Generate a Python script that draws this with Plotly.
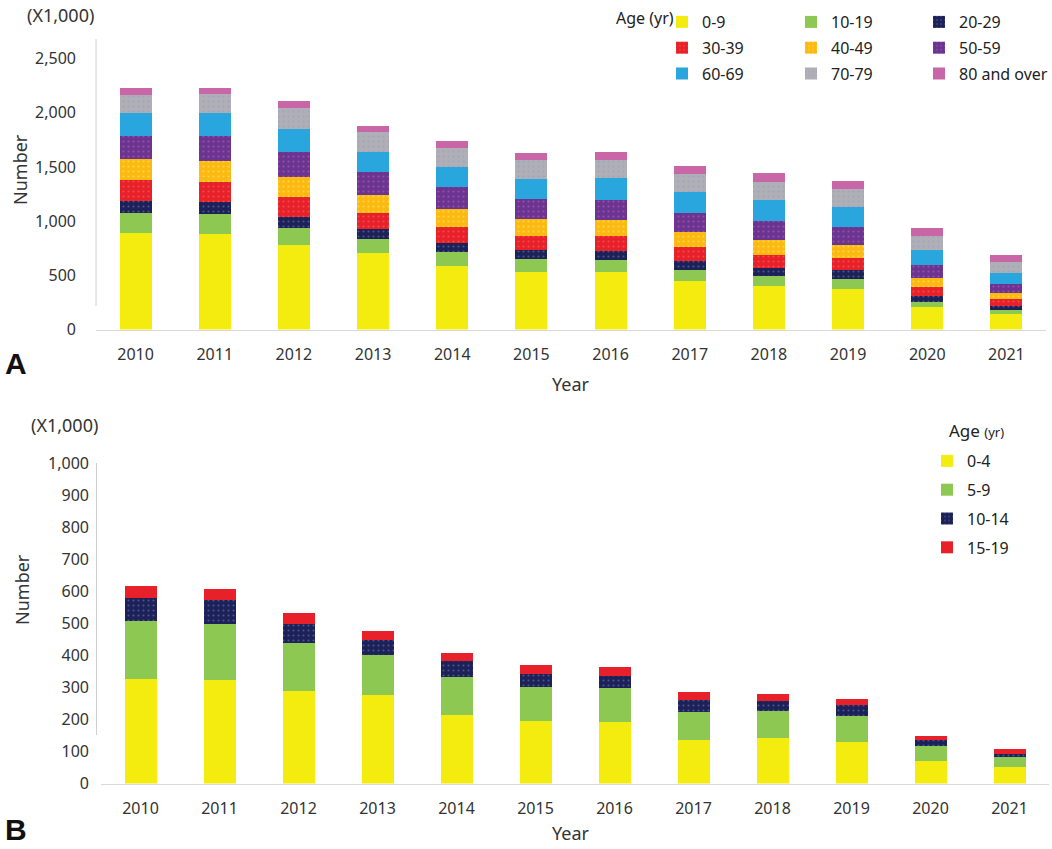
import plotly.graph_objects as go

W, H = 1052, 849

years = [str(y) for y in range(2010, 2022)]

# Panel A (x1,000)
age_a = ["0-9", "10-19", "20-29", "30-39", "40-49", "50-59", "60-69", "70-79", "80 and over"]
a_0_9   = [892, 882, 775, 704, 588, 532, 532, 447, 401, 373, 207, 140]
a_10_19 = [184, 184, 160, 129, 129, 117, 105, 104, 89, 92, 49, 40]
a_20_29 = [111, 108, 101, 93, 83, 83, 86, 83, 79, 83, 55, 39]
a_30_39 = [190, 184, 184, 150, 150, 129, 138, 126, 117, 108, 78, 59]
a_40_49 = [196, 194, 187, 169, 163, 154, 150, 138, 138, 125, 88, 58]
a_50_59 = [212, 230, 230, 206, 199, 187, 188, 178, 175, 163, 114, 83]
a_60_69 = [212, 212, 212, 190, 188, 187, 199, 188, 196, 184, 144, 104]
a_70_79 = [168, 177, 194, 178, 172, 172, 163, 168, 166, 166, 126, 99]
a_80_up = [59, 60, 64, 62, 64, 71, 77, 74, 80, 80, 71, 61]
series_a = [a_0_9, a_10_19, a_20_29, a_30_39, a_40_49, a_50_59, a_60_69, a_70_79, a_80_up]
colors_a = ["#F4EC0E", "#8DC852", "#1C2257", "#E8202A", "#FDB913", "#6A3590", "#29A6DE", "#AFAFB5", "#C966A8"]
dots_a = [None, None, "#4A5290", "#EE4A48", "#F8D83A", "#A04AA8", None, "#A0A4C4", None]
ticks_a = [0, 500, 1000, 1500, 2000, 2500]

# Panel B (x1,000)
age_b = ["0-4", "5-9", "10-14", "15-19"]
b_0_4   = [326, 322, 289, 275, 213, 195, 191, 135, 142, 130, 71, 51]
b_5_9   = [181, 177, 149, 125, 119, 106, 106, 89, 84, 81, 46, 31]
b_10_14 = [73, 74, 60, 49, 49, 41, 38, 36, 30, 33, 18, 10]
b_15_19 = [37, 34, 34, 28, 27, 27, 27, 24, 23, 21, 12, 15]
series_b = [b_0_4, b_5_9, b_10_14, b_15_19]
colors_b = ["#F4EC0E", "#8DC852", "#1C2257", "#E8202A"]
dots_b = [None, None, "#4A5290", None]
ticks_b = list(range(0, 1001, 100))

FONT = "Noto Sans"
TXT = "#333333"

def px(x):
    return x / W

def py(y):
    return 1 - y / H

def marker(color, dot):
    m = dict(color=color, line=dict(width=0))
    if dot:
        m["pattern"] = dict(shape=".", fgcolor=dot, bgcolor=color, size=5, solidity=0.15, fillmode="replace")
    return m

fig = go.Figure()
legends_a = ["legend", "legend2", "legend3"]
for i, (name, vals) in enumerate(zip(age_a, series_a)):
    fig.add_trace(go.Bar(x=years, y=vals, name=name, marker=marker(colors_a[i], dots_a[i]),
                         xaxis="x", yaxis="y", legend=legends_a[i % 3], legendgroup="a" + str(i)))
for i, (name, vals) in enumerate(zip(age_b, series_b)):
    fig.add_trace(go.Bar(x=years, y=vals, name=name, marker=marker(colors_b[i], dots_b[i]),
                         xaxis="x2", yaxis="y2", legend="legend4", legendgroup="b" + str(i)))

axis_common = dict(showgrid=False, zeroline=False, ticks="", automargin=False,
                   tickfont=dict(family=FONT, size=16, color=TXT))

leg_common = dict(orientation="v", xanchor="left", yanchor="top", traceorder="grouped",
                  bgcolor="rgba(0,0,0,0)", borderwidth=0, itemwidth=30,
                  font=dict(family=FONT, size=16, color="#222222"))

fig.update_layout(
    width=W, height=H, margin=dict(l=0, r=0, t=0, b=0, autoexpand=False),
    paper_bgcolor="white", plot_bgcolor="white",
    barmode="stack", bargap=0.595,
    showlegend=True,
    xaxis=dict(domain=[px(96), px(1046)], anchor="y", showline=True, linecolor="#D9D9D9",
               ticklabelstandoff=10, **axis_common),
    yaxis=dict(domain=[py(329.5), py(39)], anchor="x", range=[0, 2680], tickvals=ticks_a,
               tickformat=",", showline=False, ticklabelstandoff=19, **axis_common),
    xaxis2=dict(domain=[px(101), px(1049)], anchor="y2", showline=True, linecolor="#D9D9D9",
                ticklabelstandoff=10, **axis_common),
    yaxis2=dict(domain=[py(783.5), py(463)], anchor="x2", range=[0, 1000], tickvals=ticks_b,
                tickformat=",", showline=False, ticklabelstandoff=11, **axis_common),
    legend=dict(x=px(662), y=py(5), tracegroupgap=2, **leg_common),
    legend2=dict(x=px(791), y=py(5), tracegroupgap=2, **leg_common),
    legend3=dict(x=px(919), y=py(5), tracegroupgap=2, **leg_common),
    legend4=dict(x=px(927), y=py(444), tracegroupgap=5, **leg_common),
)

fig.add_shape(type="line", xref="paper", yref="paper", x0=px(96), x1=px(96), y0=py(39), y1=py(306),
              line=dict(color="#D0D0D0", width=1))
fig.add_shape(type="line", xref="paper", yref="paper", x0=px(96.5), x1=px(96.5), y0=py(463), y1=py(735),
              line=dict(color="#D0D0D0", width=1))

def ann(text, x, y, size, rot=0, bold=False, family=FONT, xanchor="center", color=TXT):
    fig.add_annotation(text=("<b>%s</b>" % text) if bold else text, x=px(x), y=py(y),
                       xref="paper", yref="paper", showarrow=False, textangle=rot,
                       xanchor=xanchor, yanchor="middle",
                       font=dict(family=family, size=size, color=color))

ann("(X1,000)", 60, 15, 18)
ann("Number", 20, 170, 18, rot=-90)
ann("Year", 571, 384, 18)
ann("A", 16, 364, 30, bold=True, family="Liberation Sans", color="#111111")
ann("Age (yr)", 614, 18, 16, xanchor="left", color="#222222")

ann("(X1,000)", 64, 425, 18)
ann("Number", 22, 590, 18, rot=-90)
ann("Year", 571, 833, 18)
ann("B", 16, 829, 30, bold=True, family="Liberation Sans", color="#111111")
ann("Age <span style='font-size:13px'>(yr)</span>", 947, 430, 17, xanchor="left", color="#222222")

fig.write_html("out.html")
